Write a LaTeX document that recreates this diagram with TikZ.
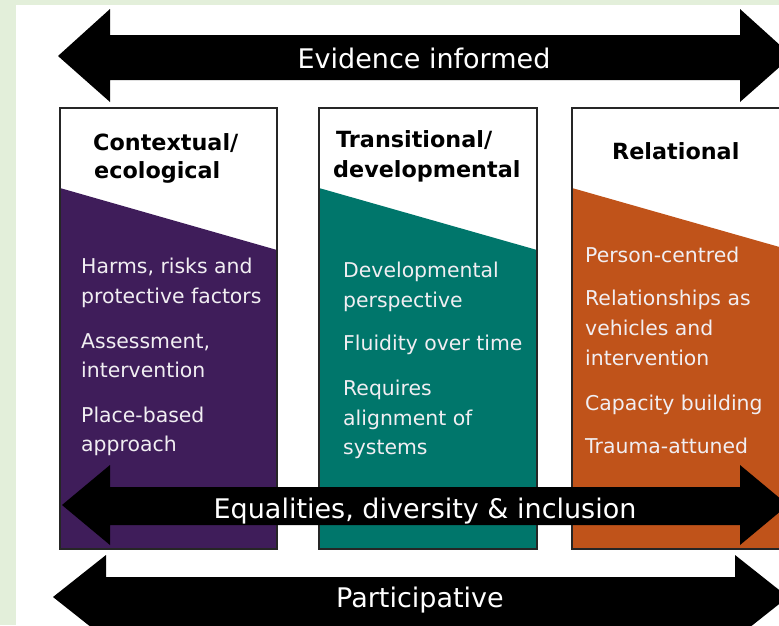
\documentclass[tikz,border=0pt]{standalone}
\usepackage{fontspec}
\setmainfont{DejaVu Sans}
\definecolor{bggreen}{HTML}{E3EFDA}
\definecolor{cpurple}{HTML}{3F1D5A}
\definecolor{cteal}{HTML}{00766B}
\definecolor{corange}{HTML}{C0531A}
\definecolor{bodytxt}{HTML}{F1EEF2}
\begin{document}
\begin{tikzpicture}[x=1pt,y=-1pt,
  bigarrow/.style={fill=black},
  boxframe/.style={draw=black!85,line width=1.5pt},
  arrowtxt/.style={text=white,font=\fontsize{27}{30}\selectfont,inner sep=0pt,anchor=base},
  titletxt/.style={text=black,font=\bfseries\fontsize{22.3}{26}\selectfont,inner sep=0pt,anchor=base west},
  bodyline/.style={text=bodytxt,font=\fontsize{20.4}{24}\selectfont,inner sep=0pt,anchor=base west}]
\useasboundingbox (0,0) rectangle (779,625);
\clip (0,0) rectangle (779,625);
\fill[bggreen] (0,0) rectangle (779,625);
\fill[white] (16,4.5) rectangle (779,625);
% top arrow
\fill[bigarrow] (58,56) -- (110,9) -- (110,35) -- (740,35) -- (740,9) -- (792,56) -- (740,102) -- (740,80) -- (110,80) -- (110,102) -- cycle;
\node[arrowtxt] (evid) at (424,68) {Evidence informed};
% boxes
\fill[white] (60,108) rectangle (277,549);
\fill[cpurple] (60,188) -- (277,250) -- (277,549) -- (60,549) -- cycle;
\draw[boxframe] (60,108) rectangle (277,549);
\fill[white] (319,108) rectangle (537,549);
\fill[cteal] (319,188) -- (537,250) -- (537,549) -- (319,549) -- cycle;
\draw[boxframe] (319,108) rectangle (537,549);
\fill[white] (572,108) rectangle (790,549);
\fill[corange] (572,188) -- (790,250) -- (790,549) -- (572,549) -- cycle;
\draw[boxframe] (572,108) rectangle (790,549);
% titles
\node[titletxt] (t1a) at (93,150) {Contextual/};
\node[titletxt] (t1b) at (94,178) {ecological};
\node[titletxt] (t2a) at (336,147) {Transitional/};
\node[titletxt] (t2b) at (333,177) {developmental};
\node[titletxt] (t3a) at (612,159) {Relational};
% left body
\node[bodyline] (a1) at (81,273) {Harms, risks and};
\node[bodyline] (a2) at (81,303) {protective factors};
\node[bodyline] (a3) at (81,348) {Assessment,};
\node[bodyline] (a4) at (81,377) {intervention};
\node[bodyline] (a5) at (81,422) {Place-based};
\node[bodyline] (a6) at (81,451) {approach};
% middle body
\node[bodyline] (b1) at (343,277) {Developmental};
\node[bodyline] (b2) at (343,307) {perspective};
\node[bodyline] (b3) at (343,350) {Fluidity over time};
\node[bodyline] (b4) at (343,395) {Requires};
\node[bodyline] (b5) at (343,425) {alignment of};
\node[bodyline] (b6) at (343,454) {systems};
% right body
\node[bodyline] (c1) at (585,262) {Person-centred};
\node[bodyline] (c2) at (585,305) {Relationships as};
\node[bodyline] (c3) at (585,335) {vehicles and};
\node[bodyline] (c4) at (585,365) {intervention};
\node[bodyline] (c5) at (585,410) {Capacity building};
\node[bodyline] (c6) at (585,453) {Trauma-attuned};
% equalities arrow
\fill[bigarrow] (62,505) -- (110,465) -- (110,487) -- (740,487) -- (740,465) -- (788,505) -- (740,545) -- (740,525) -- (110,525) -- (110,545) -- cycle;
\node[arrowtxt] (equal) at (425,518) {Equalities, diversity \& inclusion};
% participative arrow
\fill[bigarrow] (53,597) -- (106,555) -- (106,577) -- (735,577) -- (735,555) -- (788,597) -- (735,639) -- (735,632) -- (106,632) -- (106,639) -- cycle;
\node[arrowtxt] (partic) at (420,607) {Participative};
\end{tikzpicture}
\end{document}
